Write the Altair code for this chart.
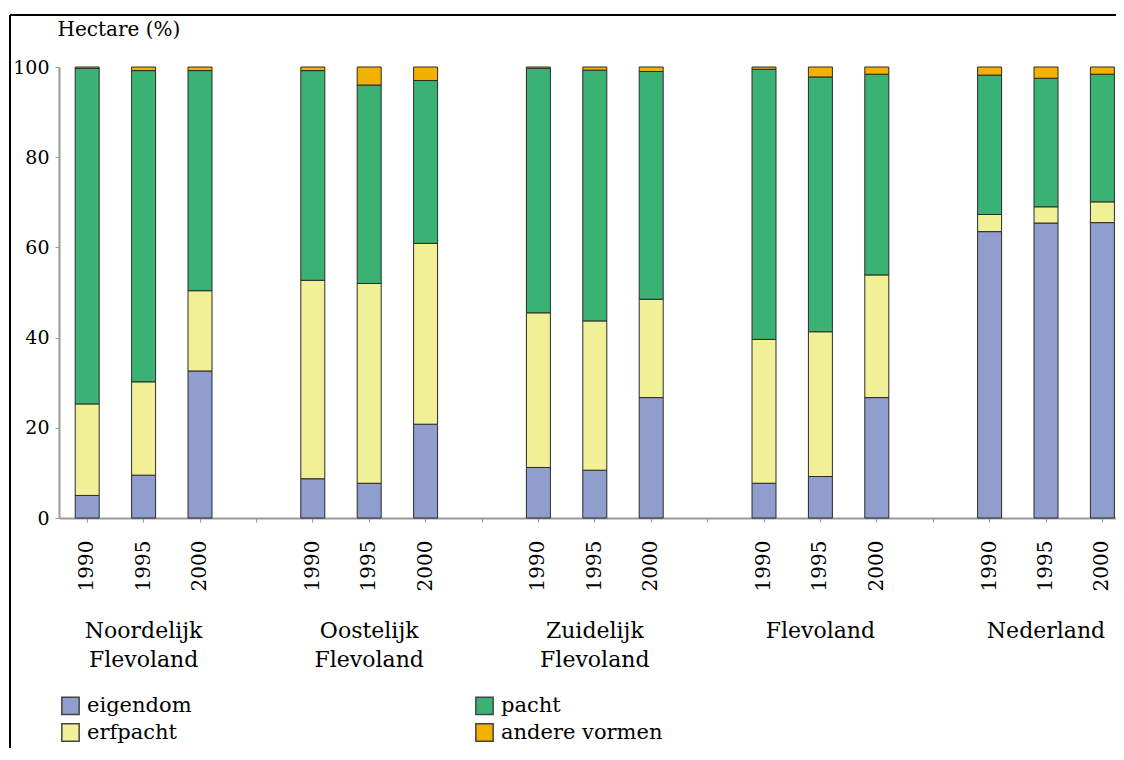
import altair as alt
import pandas as pd

groups = ["Noordelijk Flevoland", "Oostelijk Flevoland", "Zuidelijk Flevoland", "Flevoland", "Nederland"]
label_line1 = ["Noordelijk", "Oostelijk", "Zuidelijk", "Flevoland", "Nederland"]
label_line2 = ["Flevoland", "Flevoland", "Flevoland", "", ""]
years = ["1990", "1995", "2000"]
categories = ["eigendom", "erfpacht", "pacht", "andere vormen"]
colors = ["#8F9ECC", "#F2F096", "#3AB273", "#F2B000"]

# values per group, per year (1990, 1995, 2000), in %
eigendom = [[5.0, 9.5, 32.6], [8.7, 7.7, 20.8], [11.2, 10.6, 26.7], [7.7, 9.2, 26.7], [63.5, 65.4, 65.5]]
erfpacht = [[20.3, 20.7, 17.8], [44.0, 44.3, 40.1], [34.3, 33.1, 21.8], [31.9, 32.1, 27.2], [3.8, 3.6, 4.6]]
pacht = [[74.4, 69.0, 48.8], [46.5, 44.0, 36.1], [54.2, 55.6, 50.5], [59.9, 56.5, 44.5], [30.9, 28.5, 28.3]]
andere = [[0.3, 0.8, 0.8], [0.8, 4.0, 3.0], [0.3, 0.7, 1.0], [0.5, 2.2, 1.6], [1.8, 2.5, 1.6]]

series = {"eigendom": eigendom, "erfpacht": erfpacht, "pacht": pacht, "andere vormen": andere}

slots = []
for gi in range(len(groups)):
    if gi > 0:
        slots.append(f"gap{gi}")
    for y in years:
        slots.append(f"{gi}-{y}")

rows = []
for gi in range(len(groups)):
    for yi, y in enumerate(years):
        for k, cat in enumerate(categories):
            rows.append({"slot": f"{gi}-{y}", "cat": cat, "k": k, "value": series[cat][gi][yi]})
df = pd.DataFrame(rows)

lab_df = pd.DataFrame({"slot": [f"{gi}-1995" for gi in range(len(groups))],
                       "l1": label_line1, "l2": label_line2})
one = pd.DataFrame({"a": [0]})

xscale = alt.Scale(domain=slots, range=[0, 1071.6], paddingInner=0, paddingOuter=0)

bars = alt.Chart(df).mark_bar(size=24, stroke="#2a2a2a", strokeWidth=1).encode(
    x=alt.X("slot:N", scale=xscale,
            axis=alt.Axis(title=None, labelAngle=-90, labelFont="DejaVu Serif", labelFontSize=20,
                          labelColor="black", labelPadding=18, tickSize=4, tickColor="#999",
                          domainColor="#999", domainWidth=2,
                          labelExpr="indexof(datum.value, 'gap') == 0 ? '' : slice(datum.value, -4)")),
    y=alt.Y("value:Q", stack="zero", scale=alt.Scale(domain=[0, 100], nice=False),
            axis=alt.Axis(values=[0, 20, 40, 60, 80, 100], grid=False, title="Hectare (%)",
                          titleAngle=0, titleAlign="left", titleBaseline="alphabetic",
                          titleX=-2, titleY=-32, titleFont="DejaVu Serif", titleFontSize=20,
                          titleFontWeight="normal", titleColor="black",
                          labelFont="DejaVu Serif", labelFontSize=19, labelColor="black",
                          tickSize=4, tickColor="#999", labelPadding=6,
                          domainColor="#999", domainWidth=2)),
    color=alt.Color("cat:N", scale=alt.Scale(domain=categories, range=colors),
                    legend=alt.Legend(orient="none", legendX=1, legendY=628, columns=2,
                                      columnPadding=280, rowPadding=2, title=None,
                                      symbolType="square", symbolSize=300, symbolStrokeColor="#444",
                                      symbolStrokeWidth=1.5, labelFont="DejaVu Serif", labelLimit=400,
                                      labelFontSize=21, labelColor="black", labelOffset=6)),
    order=alt.Order("k:Q", sort="ascending"),
)

text1 = alt.Chart(lab_df).mark_text(baseline="top", align="center",
                                    font="DejaVu Serif", fontSize=22, color="black").encode(
    x=alt.X("slot:N", scale=xscale), y=alt.value(554), text="l1:N")
text2 = alt.Chart(lab_df).mark_text(baseline="top", align="center",
                                    font="DejaVu Serif", fontSize=22, color="black").encode(
    x=alt.X("slot:N", scale=xscale), y=alt.value(583), text="l2:N")

left_line = alt.Chart(one).mark_rule(color="black", strokeWidth=2).encode(
    x=alt.value(-49), y=alt.value(-52), y2=alt.value(700))
top_line = alt.Chart(one).mark_rule(color="black", strokeWidth=2).encode(
    x=alt.value(-49), x2=alt.value(1100), y=alt.value(-52))

chart = alt.layer(bars, text1, text2, left_line, top_line).properties(
    width=1057, height=451,
    autosize=alt.AutoSizeParams(type="none"),
    padding={"left": 51, "top": 59, "right": 0, "bottom": 230},
    background="white",
).configure_view(stroke=None)

chart.save("out.html", embed_options={"renderer": "svg", "actions": False})
